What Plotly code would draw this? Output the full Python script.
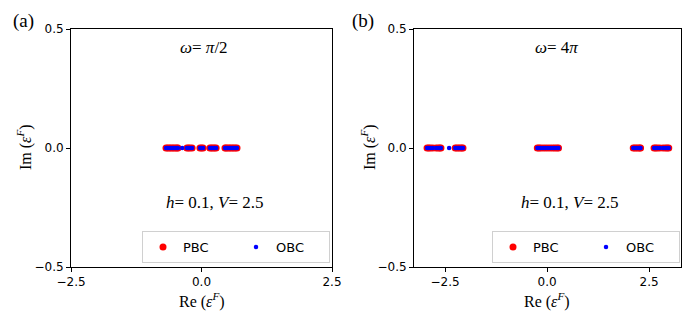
import plotly.graph_objects as go

# ---------------- data ----------------
# panel (a): omega = pi/2
pbc_a_re = [-0.68, -0.65, -0.62, -0.59, -0.56, -0.53, -0.50, -0.47, -0.45,
            -0.28, -0.25, -0.22, -0.18,
            -0.03, 0.00, 0.03,
            0.16, 0.19, 0.22, 0.25, 0.28,
            0.45, 0.47, 0.50, 0.53, 0.56, 0.59, 0.62, 0.65, 0.68]
pbc_a_im = [0.0, 0.0, 0.0, 0.0, 0.0, 0.0, 0.0, 0.0, 0.0,
            0.0, 0.0, 0.0, 0.0,
            0.0, 0.0, 0.0,
            0.0, 0.0, 0.0, 0.0, 0.0,
            0.0, 0.0, 0.0, 0.0, 0.0, 0.0, 0.0, 0.0, 0.0]
obc_a_re = [-0.68, -0.65, -0.62, -0.59, -0.56, -0.53, -0.50, -0.47, -0.45,
            -0.37,
            -0.28, -0.25, -0.22, -0.18,
            -0.03, 0.00, 0.03,
            0.16, 0.19, 0.22, 0.25, 0.28,
            0.45, 0.47, 0.50, 0.53, 0.56, 0.59, 0.62, 0.65, 0.68]
obc_a_im = [0.0, 0.0, 0.0, 0.0, 0.0, 0.0, 0.0, 0.0, 0.0,
            0.0,
            0.0, 0.0, 0.0, 0.0,
            0.0, 0.0, 0.0,
            0.0, 0.0, 0.0, 0.0, 0.0,
            0.0, 0.0, 0.0, 0.0, 0.0, 0.0, 0.0, 0.0, 0.0]

# panel (b): omega = 4 pi
pbc_b_re = [-2.94, -2.90, -2.86, -2.80, -2.72, -2.67, -2.63, -2.60,
            -2.25, -2.21, -2.17, -2.13, -2.09, -2.06,
            -0.24, -0.20, -0.16, -0.10, -0.04, 0.02, 0.08, 0.14, 0.19, 0.24, 0.28,
            2.11, 2.15, 2.19, 2.23, 2.27, 2.29,
            2.62, 2.66, 2.70, 2.76, 2.84, 2.90, 2.94, 2.98]
pbc_b_im = [0.0, 0.0, 0.0, 0.0, 0.0, 0.0, 0.0, 0.0,
            0.0, 0.0, 0.0, 0.0, 0.0, 0.0,
            0.0, 0.0, 0.0, 0.0, 0.0, 0.0, 0.0, 0.0, 0.0, 0.0, 0.0,
            0.0, 0.0, 0.0, 0.0, 0.0, 0.0,
            0.0, 0.0, 0.0, 0.0, 0.0, 0.0, 0.0, 0.0]
obc_b_re = [-2.94, -2.90, -2.86, -2.80, -2.72, -2.67, -2.63, -2.60,
            -2.40,
            -2.25, -2.21, -2.17, -2.13, -2.09, -2.06,
            -0.24, -0.20, -0.16, -0.10, -0.04, 0.02, 0.08, 0.14, 0.19, 0.24, 0.28,
            2.11, 2.15, 2.19, 2.23, 2.27, 2.29,
            2.62, 2.66, 2.70, 2.76, 2.84, 2.90, 2.94, 2.98]
obc_b_im = [0.0, 0.0, 0.0, 0.0, 0.0, 0.0, 0.0, 0.0,
            0.0,
            0.0, 0.0, 0.0, 0.0, 0.0, 0.0,
            0.0, 0.0, 0.0, 0.0, 0.0, 0.0, 0.0, 0.0, 0.0, 0.0, 0.0,
            0.0, 0.0, 0.0, 0.0, 0.0, 0.0,
            0.0, 0.0, 0.0, 0.0, 0.0, 0.0, 0.0, 0.0]

x_ticks_a = [-2.5, 0.0, 2.5]
x_ticks_b = [-2.5, 0.0, 2.5]
y_ticks = [-0.5, 0.0, 0.5]

W, H = 690, 323
SERIF = "Liberation Serif, Times New Roman, serif"
SANS = "DejaVu Sans, sans-serif"

def px(x):
    return x / W

def py(y):
    return 1 - y / H

fig = go.Figure()

fig.add_trace(go.Scatter(x=pbc_a_re, y=pbc_a_im, mode="markers", name="PBC",
                         marker=dict(color="#ff0000", size=7, line=dict(width=0)),
                         xaxis="x", yaxis="y", legend="legend"))
fig.add_trace(go.Scatter(x=obc_a_re, y=obc_a_im, mode="markers", name="OBC",
                         marker=dict(color="#0000ff", size=4.5, line=dict(width=0)),
                         xaxis="x", yaxis="y", legend="legend"))
fig.add_trace(go.Scatter(x=pbc_b_re, y=pbc_b_im, mode="markers", name="PBC",
                         marker=dict(color="#ff0000", size=7, line=dict(width=0)),
                         xaxis="x2", yaxis="y2", legend="legend2"))
fig.add_trace(go.Scatter(x=obc_b_re, y=obc_b_im, mode="markers", name="OBC",
                         marker=dict(color="#0000ff", size=4.5, line=dict(width=0)),
                         xaxis="x2", yaxis="y2", legend="legend2"))

ax_common = dict(showline=True, mirror=True, linecolor="black", linewidth=1,
                 ticks="outside", ticklen=4, tickwidth=1, tickcolor="black",
                 showgrid=False, zeroline=False, automargin=False,
                 tickfont=dict(family=SANS, size=12, color="black"))

ydom = [py(267), py(29)]
leg_common = dict(xanchor="left", yanchor="top", orientation="h",
                  bgcolor="white", bordercolor="#d0d0d0", borderwidth=1,
                  font=dict(family=SANS, size=13, color="black"),
                  entrywidth=48, entrywidthmode="pixels", itemsizing="trace")
fig.update_layout(
    width=W, height=H,
    margin=dict(l=0, r=0, t=0, b=0, autoexpand=False),
    paper_bgcolor="white", plot_bgcolor="white",
    xaxis=dict(domain=[px(71), px(332)], range=[-2.5, 2.5], tickvals=x_ticks_a,
               ticktext=["\u22122.5", "0.0", "2.5"], anchor="y", **ax_common),
    yaxis=dict(domain=ydom, range=[-0.5, 0.5], tickvals=y_ticks,
               ticktext=["\u22120.5", "0.0", "0.5"], anchor="x", **ax_common),
    xaxis2=dict(domain=[px(414), px(681)], range=[-3.26, 3.28], tickvals=x_ticks_b,
                ticktext=["\u22122.5", "0.0", "2.5"], anchor="y2", **ax_common),
    yaxis2=dict(domain=ydom, range=[-0.5, 0.5], tickvals=y_ticks,
                ticktext=["\u22120.5", "0.0", "0.5"], anchor="x2", **ax_common),
    legend=dict(x=px(142), y=py(231), **leg_common),
    legend2=dict(x=px(492), y=py(231), **leg_common),
    showlegend=True,
)

def ann(x, y, text, size=16, angle=0):
    fig.add_annotation(x=px(x), y=py(y), xref="paper", yref="paper", text=text,
                       showarrow=False, xanchor="center", yanchor="middle",
                       textangle=angle,
                       font=dict(family=SERIF, size=size, color="black"))

# panel labels
ann(23, 21, "(a)", size=19)
ann(363, 21, "(b)", size=19)
# in-plot texts
ann(204, 47, "<i>ω</i>= <i>π</i>/2", size=17)
ann(556, 47, "<i>ω</i>= 4<i>π</i>", size=17)
ann(215, 202, "<i>h</i>= 0.1, <i>V</i>= 2.5", size=17)
ann(570, 202, "<i>h</i>= 0.1, <i>V</i>= 2.5", size=17)
# axis titles
ann(202, 300, "Re (<i>ε</i><sup><i>F</i></sup>)", size=16)
ann(547, 300, "Re (<i>ε</i><sup><i>F</i></sup>)", size=16)
ann(25, 147, "Im (<i>ε</i><sup><i>F</i></sup>)", size=16, angle=-90)
ann(369, 147, "Im (<i>ε</i><sup><i>F</i></sup>)", size=16, angle=-90)

fig.write_html("out.html")
